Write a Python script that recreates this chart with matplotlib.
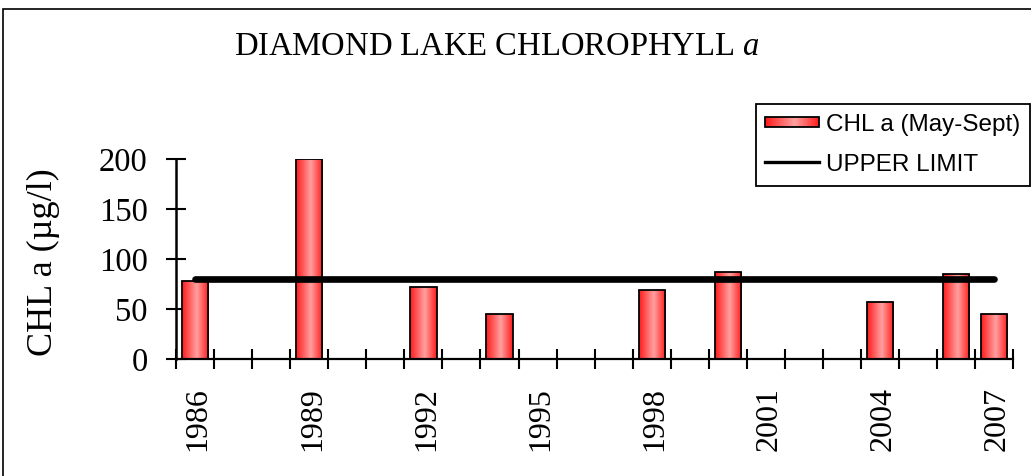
import numpy as np
import matplotlib
matplotlib.use("Agg")
import matplotlib.pyplot as plt
from matplotlib.patches import Rectangle
from matplotlib.lines import Line2D
from matplotlib.legend_handler import HandlerBase
from matplotlib.colors import LinearSegmentedColormap

plt.rcParams["mathtext.fontset"] = "custom"
plt.rcParams["mathtext.it"] = "Liberation Serif:italic"
plt.rcParams["mathtext.rm"] = "Liberation Serif"

# ---- data ----
years = list(range(1986, 2008))
chl = [78, np.nan, np.nan, 200, np.nan, np.nan, 72, np.nan, 45, np.nan, np.nan,
       np.nan, 69, np.nan, 87, np.nan, np.nan, np.nan, 57, np.nan, 85, 45]
upper_limit = [80] * len(years)
label_years = [1986, 1989, 1992, 1995, 1998, 2001, 2004, 2007]
yticks = [0, 50, 100, 150, 200]

title_main = "DIAMOND LAKE CHLOROPHYLL "
ylabel = "CHL a (µg/l)"
bar_label = "CHL a (May-Sept)"
line_label = "UPPER LIMIT"

serif = "Liberation Serif"
sans = "Liberation Sans"

W, H = 1031, 476
fig = plt.figure(figsize=(W / 100, H / 100), dpi=100)
ax = fig.add_axes([176 / W, 1 - 359.3 / H, (1013.3 - 176) / W, 200 / H])

grad_cmap = LinearSegmentedColormap.from_list(
    "g", [(0.0, "#ff1a1a"), (0.55, "#ffa0a0"), (1.0, "#ff1a1a")])

x = np.arange(len(years))
vals = np.array(chl, dtype=float)
bars = ax.bar(x, np.nan_to_num(vals), width=0.69, facecolor="none",
              edgecolor="black", linewidth=1.3, zorder=3)
gradient = np.linspace(0, 1, 256).reshape(1, -1)
for b, v in zip(bars, vals):
    if np.isnan(v):
        b.set_visible(False)
        continue
    x0, y0 = b.get_x(), b.get_y()
    im = ax.imshow(gradient, cmap=grad_cmap, aspect="auto",
                   extent=[x0, x0 + b.get_width(), y0, y0 + b.get_height()],
                   zorder=2, interpolation="bilinear")
    im.set_clip_path(b)

ax.plot(x, upper_limit, color="black", lw=4.8, solid_capstyle="round", zorder=4)

ax.set_xlim(-0.5, len(years) - 0.5)
ax.set_ylim(0, 200)

for s in ["top", "right"]:
    ax.spines[s].set_visible(False)
ax.spines["left"].set_linewidth(1.8)
ax.spines["bottom"].set_linewidth(1.6)

# x ticks: marks at category boundaries, labels at category centres
ax.set_xticks(np.arange(-0.5, len(years), 1.0))
ax.set_xticklabels([])
ax.tick_params(axis="x", which="major", direction="inout", length=13.7, width=1.5)
lab_pos = [years.index(yv) + 0.08 for yv in label_years]
ax.set_xticks(lab_pos, minor=True)
ax.set_xticklabels([str(v) for v in label_years], minor=True, rotation=90,
                   family=serif, fontsize=23)
ax.tick_params(axis="x", which="minor", length=0, pad=20)

ax.set_yticks(yticks)
ax.set_yticklabels([str(v) for v in yticks], family=serif, fontsize=23.5)
ax.tick_params(axis="y", direction="inout", length=13.7, width=1.5, pad=13.5)

fig.text(43 / W, 1 - 262 / H, ylabel, rotation=90, ha="center", va="center",
         family=serif, fontsize=26)

fig.text(497 / W, 1 - 47 / H, title_main + r"$\mathit{a}$", ha="center", va="center",
         family=serif, fontsize=23.5)

# figure border
fig.patches.append(Rectangle((3 / W, -0.05), 1.1, 1.05 - 9 / H, transform=fig.transFigure,
                             fill=False, edgecolor="black", linewidth=1.2, zorder=10))


class GradHandler(HandlerBase):
    def create_artists(self, legend, orig, xdescent, ydescent, width, height,
                       fontsize, trans):
        arts = []
        n = 40
        hh = height * 0.6
        y0 = -ydescent + (height - hh) / 2
        for i in range(n):
            c = grad_cmap((i + 0.5) / n)
            r = Rectangle((-xdescent + width * i / n, y0), width / n + 0.3, hh,
                          facecolor=c, edgecolor="none", transform=trans)
            arts.append(r)
        border = Rectangle((-xdescent, y0), width, hh, facecolor="none",
                           edgecolor="black", linewidth=1.3, transform=trans)
        arts.append(border)
        return arts


bar_handle = Rectangle((0, 0), 1, 1)
line_handle = Line2D([], [], color="black", lw=2.4)
leg = fig.legend([bar_handle, line_handle], [bar_label, line_label],
                 handler_map={Rectangle: GradHandler()},
                 loc="upper left",
                 bbox_to_anchor=(755.7 / W, 1 - 183 / H, (1030 - 755.7) / W, 79 / H),
                 bbox_transform=fig.transFigure, mode="expand", borderaxespad=0,
                 prop={"family": sans, "size": 17.5}, frameon=True, fancybox=False,
                 edgecolor="black", framealpha=1, handlelength=2.2,
                 handletextpad=0.3, labelspacing=0.75, borderpad=0.4)
leg.get_frame().set_linewidth(1.3)

fig.savefig("out.png", dpi=100)
